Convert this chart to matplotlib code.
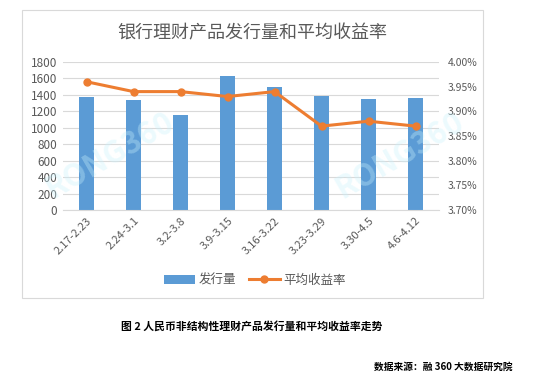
import numpy as np
import matplotlib
matplotlib.use("Agg")
import matplotlib.pyplot as plt
from matplotlib.patches import Rectangle
from matplotlib.ticker import FuncFormatter

plt.rcParams['font.family'] = ['Noto Sans CJK SC', 'DejaVu Sans']

# dati
weeks = ['2.17-2.23', '2.24-3.1', '3.2-3.8', '3.9-3.15', '3.16-3.22',
         '3.23-3.29', '3.30-4.5', '4.6-4.12']
volume = [1370, 1340, 1150, 1630, 1490, 1390, 1355, 1365]
rate = [3.96, 3.94, 3.94, 3.93, 3.94, 3.87, 3.88, 3.87]

blue = '#5B9BD5'
orange = '#ED7D31'
grey = '#595959'

fig = plt.figure(figsize=(5.43, 3.77), dpi=100)
W, H = 543, 377

# cornice del grafico
fig.patches.append(Rectangle((22 / W, 1 - 298 / H), 461 / W, 288 / H,
                             transform=fig.transFigure, fill=False,
                             edgecolor='#D9D9D9', lw=0.8))

ax = fig.add_axes([63 / W, 1 - 210 / H, 376 / W, 148 / H])
x = np.arange(len(weeks))
bars = ax.bar(x, volume, width=0.32, color=blue, label='发行量', zorder=2)
ax.set_ylim(0, 1800)
ax.set_yticks(np.arange(0, 1801, 200))
ax.set_xlim(-0.5, len(weeks) - 0.5)
ax.set_xticks(x)
ax.set_xticklabels(weeks, rotation=45, ha='right', rotation_mode='anchor',
                   fontsize=8)
ax.grid(axis='y', color='#D9D9D9', lw=0.8, zorder=0)
for s in ['top', 'right', 'left']:
    ax.spines[s].set_visible(False)
ax.spines['bottom'].set_color('#D9D9D9')
ax.tick_params(axis='y', labelsize=8.5)
ax.tick_params(length=0, colors=grey, pad=4)

ax2 = ax.twinx()
line, = ax2.plot(x, rate, color=orange, lw=2.2, marker='o', ms=5,
                 label='平均收益率', zorder=3)
ax2.set_ylim(3.70, 4.00)
ax2.set_yticks(np.arange(3.70, 4.001, 0.05))
ax2.yaxis.set_major_formatter(FuncFormatter(lambda v, p: '%.2f%%' % v))
for s in ax2.spines.values():
    s.set_visible(False)
ax2.tick_params(length=0, labelsize=7.5, colors=grey, pad=6)

fig.text(252 / W, 1 - 33 / H, '银行理财产品发行量和平均收益率', ha='center', va='center',
         fontsize=13, color=grey)

# filigrana
for xw, yw in [(110 / W, 1 - 155 / H), (400 / W, 1 - 155 / H)]:
    fig.text(xw, yw, 'RONG360', ha='center', va='center', fontsize=22,
             color='#C9F2FC', alpha=0.35, rotation=30, fontweight='bold')

fig.legend([bars, line], ['发行量', '平均收益率'], loc='center',
           bbox_to_anchor=(255 / W, 1 - 280 / H), ncol=2, frameon=False,
           fontsize=9, labelcolor=grey, handlelength=2.5, columnspacing=1.0,
           handletextpad=0.3)

fig.text(252 / W, 1 - 326 / H, '图 2 人民币非结构性理财产品发行量和平均收益率走势',
         ha='center', va='center', fontsize=7.8, color='black', fontweight='bold')
fig.text(513 / W, 1 - 367 / H, '数据来源：融 360 大数据研究院', ha='right',
         va='center', fontsize=7, color='black', fontweight='bold')

fig.savefig('out.png', dpi=100)
